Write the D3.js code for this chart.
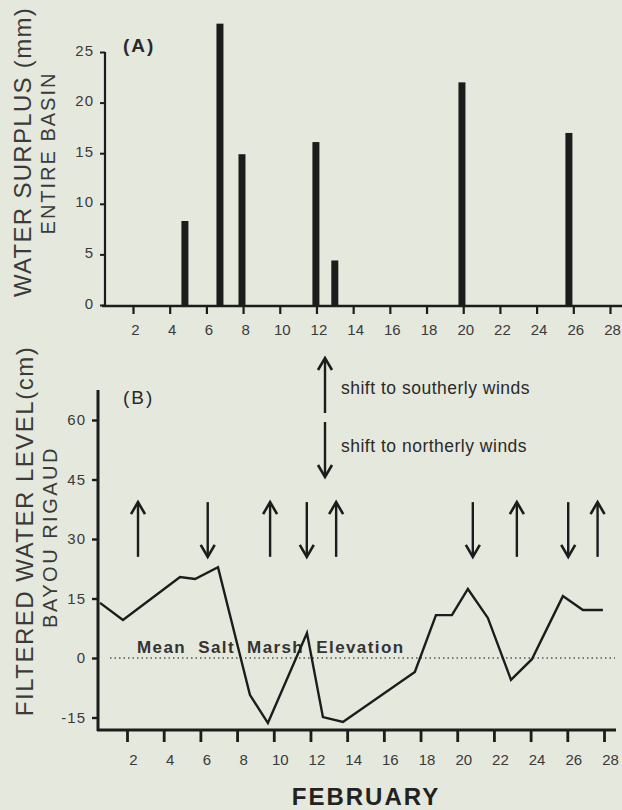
<!DOCTYPE html>
<html>
<head>
<meta charset="utf-8">
<script src="https://cdn.jsdelivr.net/npm/d3@7"></script>
<style>
  html, body { margin: 0; padding: 0; background: #e5e8dc; }
  svg { display: block; }
  text { font-family: "Liberation Sans", Arial, Helvetica, sans-serif; }
</style>
</head>
<body>
<svg id="chart" width="622" height="810"></svg>
<script>
// ---------- DATA ----------
const tickDays = [2, 4, 6, 8, 10, 12, 14, 16, 18, 20, 22, 24, 26, 28];

// Panel A: water surplus (mm), entire basin
const surplusDays   = [4.83, 6.74, 7.94, 11.97, 13.0, 19.93, 25.76];
const surplusValues = [8.3, 27.8, 14.9, 16.1, 4.4, 22.0, 17.0];
const surplusTicks  = [0, 5, 10, 15, 20, 25];

// Panel B: filtered water level (cm), Bayou Rigaud
const levelDays   = [0.53, 1.78, 4.89, 5.71, 6.96, 8.70, 9.68, 11.81, 12.68, 13.77,
                     17.69, 18.84, 19.71, 20.58, 21.67, 22.93, 24.07, 25.76, 26.85, 27.94];
const levelValues = [13.9, 9.6, 20.4, 19.9, 22.9, -9.3, -16.4, 6.3, -14.9, -16.1,
                     -3.5, 10.8, 10.8, 17.4, 10.1, -5.5, -0.3, 15.6, 12.1, 12.1];
const levelTicks  = [-15, 0, 15, 30, 45, 60];

// Wind shifts
const southerlyDays = [2.6, 9.8, 13.4, 23.25, 27.65];   // up arrows
const northerlyDays = [6.4, 11.8, 20.85, 26.05];        // down arrows

// ---------- DRAW ----------
const svg = d3.select("#chart");
svg.append("rect").attr("width", 622).attr("height", 810).attr("fill", "#e5e8dc");

const ink = "#1c1c1c";
const textInk = "#3a3a3a";

// ===== Panel A =====
const xA = d3.scaleLinear().domain([2, 28]).range([133, 610]);
const yA = d3.scaleLinear().domain([0, 25]).range([305, 52]);

const gA = svg.append("g");

// bars
gA.selectAll("rect.bar").data(surplusDays.map((d, i) => ({d, v: surplusValues[i]})))
  .enter().append("rect").attr("class", "bar")
  .attr("x", p => xA(p.d) - 3.5)
  .attr("width", 7)
  .attr("y", p => yA(p.v))
  .attr("height", p => yA(0) - yA(p.v))
  .attr("fill", ink);

// y axis
const yAxisA = d3.axisLeft(yA).tickValues(surplusTicks).tickSize(5).tickPadding(6);
const gyA = gA.append("g").attr("transform", "translate(105,0)").call(yAxisA);
gyA.select(".domain").remove();
gyA.selectAll(".tick line").attr("stroke", ink).attr("stroke-width", 2);
gyA.selectAll(".tick text").attr("fill", textInk).style("font-size", "15px")
  .attr("letter-spacing", "1px").attr("dy", "0.2em");
gA.append("line").attr("x1", 105).attr("x2", 105).attr("y1", yA(25)).attr("y2", 307)
  .attr("stroke", ink).attr("stroke-width", 2.2);

// x axis
const xAxisA = d3.axisBottom(xA).tickValues(tickDays).tickSize(8).tickPadding(10);
const gxA = gA.append("g").attr("transform", "translate(0,306)").call(xAxisA);
gxA.select(".domain").remove();
gxA.selectAll(".tick line").attr("stroke", ink).attr("stroke-width", 2.2);
gxA.selectAll(".tick text").attr("fill", textInk).style("font-size", "15px")
  .attr("dx", "2px");
gA.append("line").attr("x1", 102).attr("x2", 622).attr("y1", 306).attr("y2", 306)
  .attr("stroke", ink).attr("stroke-width", 2.6);

// labels
gA.append("text").attr("x", 123).attr("y", 52).text("(A)")
  .attr("fill", "#2a2a2a").style("font-size", "19px").style("font-weight", "bold")
  .attr("letter-spacing", "2px");

svg.append("text").attr("transform", "translate(31,152) rotate(-90)")
  .attr("text-anchor", "middle").text("WATER SURPLUS (mm)")
  .attr("fill", textInk).style("font-size", "24px").attr("letter-spacing", "1.3px");
svg.append("text").attr("transform", "translate(55,153) rotate(-90)")
  .attr("text-anchor", "middle").text("ENTIRE BASIN")
  .attr("fill", textInk).style("font-size", "20px").attr("letter-spacing", "2px");

// ===== Panel B =====
const xB = d3.scaleLinear().domain([2, 28]).range([127, 604]);
const yB = d3.scaleLinear().domain([-15, 60]).range([717.5, 420]);

const gB = svg.append("g");

// mean salt marsh elevation dotted line
gB.append("line").attr("x1", 110).attr("x2", 615).attr("y1", yB(0)).attr("y2", yB(0))
  .attr("stroke", "#555").attr("stroke-width", 1.3).attr("stroke-dasharray", "1.5,3");
gB.append("text").attr("x", 137).attr("y", 653).text("Mean Salt Marsh Elevation")
  .attr("fill", "#333").style("font-size", "17px").style("font-weight", "bold")
  .attr("letter-spacing", "1.4px").attr("word-spacing", "6px");

// water level line
const line = d3.line().x(p => xB(p.d)).y(p => yB(p.v));
gB.append("path")
  .datum(levelDays.map((d, i) => ({d, v: levelValues[i]})))
  .attr("d", line).attr("fill", "none").attr("stroke", ink)
  .attr("stroke-width", 2.4).attr("stroke-linejoin", "miter");

// y axis
const yAxisB = d3.axisLeft(yB).tickValues(levelTicks).tickSize(6).tickPadding(6);
const gyB = gB.append("g").attr("transform", "translate(98,0)").call(yAxisB);
gyB.select(".domain").remove();
gyB.selectAll(".tick line").attr("stroke", ink).attr("stroke-width", 2.4);
gyB.selectAll(".tick text").attr("fill", textInk).style("font-size", "15px")
  .attr("letter-spacing", "1px").text(d => d < 0 ? "-" + Math.abs(d) : d);
gB.append("line").attr("x1", 98).attr("x2", 98).attr("y1", 390).attr("y2", 731)
  .attr("stroke", ink).attr("stroke-width", 3);

// x axis
const xAxisB = d3.axisBottom(xB).tickValues(tickDays).tickSize(12).tickPadding(12);
const gxB = gB.append("g").attr("transform", "translate(0,730)").call(xAxisB);
gxB.select(".domain").remove();
gxB.selectAll(".tick line").attr("stroke", ink).attr("stroke-width", 2.8);
gxB.selectAll(".tick text").attr("fill", textInk).style("font-size", "15px")
  .attr("dx", "6px");
gB.append("line").attr("x1", 97).attr("x2", 616).attr("y1", 730).attr("y2", 730)
  .attr("stroke", ink).attr("stroke-width", 3.2);

// wind arrows
function arrow(g, x, yTail, yTip) {
  const dir = yTip < yTail ? 1 : -1; // 1 = pointing up
  g.append("line").attr("x1", x).attr("x2", x).attr("y1", yTail).attr("y2", yTip + dir * 1)
    .attr("stroke", ink).attr("stroke-width", 2.4);
  g.append("path")
    .attr("d", `M${x - 7},${yTip + dir * 12} L${x},${yTip} L${x + 7},${yTip + dir * 12}`)
    .attr("fill", "none").attr("stroke", ink).attr("stroke-width", 2.6)
    .attr("stroke-linejoin", "miter");
}
const arrowHi = yB(39.3), arrowLo = yB(25.5);
southerlyDays.forEach(d => arrow(gB, xB(d), arrowLo, arrowHi));
northerlyDays.forEach(d => arrow(gB, xB(d), arrowHi, arrowLo));

// legend
arrow(gB, 325, 413, 358);
arrow(gB, 325, 422, 477);
gB.append("text").attr("x", 341).attr("y", 394).text("shift to southerly winds")
  .attr("fill", "#2a2a2a").style("font-size", "17.5px").attr("letter-spacing", "0.5px");
gB.append("text").attr("x", 341).attr("y", 452).text("shift to northerly winds")
  .attr("fill", "#2a2a2a").style("font-size", "17.5px").attr("letter-spacing", "0.5px");

gB.append("text").attr("x", 123).attr("y", 404).text("(B)")
  .attr("fill", "#2a2a2a").style("font-size", "19px").attr("letter-spacing", "2px");

svg.append("text").attr("transform", "translate(33,531) rotate(-90)")
  .attr("text-anchor", "middle").text("FILTERED WATER LEVEL(cm)")
  .attr("fill", textInk).style("font-size", "24px").attr("letter-spacing", "1.5px");
svg.append("text").attr("transform", "translate(57,537) rotate(-90)")
  .attr("text-anchor", "middle").text("BAYOU RIGAUD")
  .attr("fill", textInk).style("font-size", "20px").attr("letter-spacing", "2.5px");

svg.append("text").attr("x", 366).attr("y", 805).attr("text-anchor", "middle")
  .text("FEBRUARY").attr("fill", "#222").style("font-size", "24px")
  .style("font-weight", "bold").attr("letter-spacing", "2px");
</script>
</body>
</html>
